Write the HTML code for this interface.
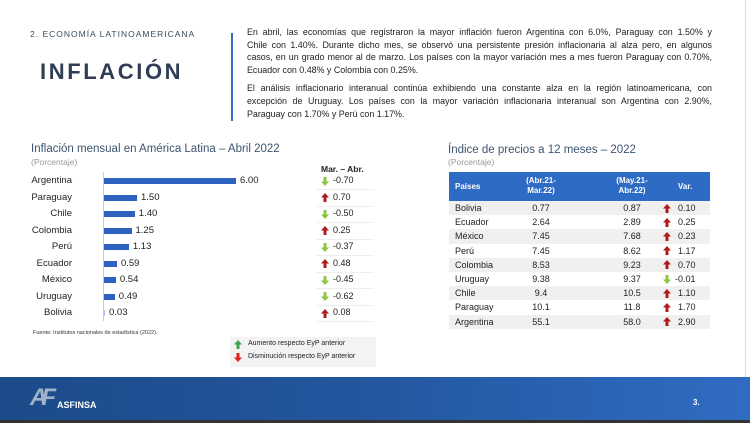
<!DOCTYPE html>
<html><head><meta charset="utf-8"><style>
*{margin:0;padding:0;box-sizing:border-box}
body{width:750px;height:423px;position:relative;background:#fff;font-family:"Liberation Sans",sans-serif;overflow:hidden;color:#222}
.a{position:absolute;white-space:nowrap}
.p div{font-size:8.9px;text-align:justify;text-align-last:justify;height:12.6px;line-height:12.6px;color:#222}
.p div.l{text-align-last:left}
.lab{position:absolute;right:678px;font-size:9.5px;color:#222}
.bar{position:absolute;left:104px;height:6px;background:#2e62c0}
.val{position:absolute;font-size:9.5px;color:#222}
svg.ar{position:absolute;width:8px;height:9px}
.tr{position:absolute;left:449px;width:261px;height:14.2px;font-size:9px;line-height:14.2px}
.tr span{position:absolute}
</style></head><body>
<div class="a" style="left:30px;top:29px;font-size:8.5px;letter-spacing:1px;color:#3a4a5e">2. ECONOMÍA LATINOAMERICANA</div>
<div class="a" style="left:40px;top:59px;font-size:22px;font-weight:bold;letter-spacing:2.6px;color:#2f3e55">INFLACIÓN</div>
<div class="a" style="left:231px;top:33px;width:2px;height:88px;background:#3a6cc0"></div>
<div class="a p" style="left:247px;top:26px;width:465px">
<div>En abril, las economías que registraron la mayor inflación fueron Argentina con 6.0%, Paraguay con 1.50% y</div>
<div>Chile con 1.40%. Durante dicho mes, se observó una persistente presión inflacionaria al alza pero, en algunos</div>
<div>casos, en un grado menor al de marzo. Los países con la mayor variación mes a mes fueron Paraguay con 0.70%,</div>
<div class="l">Ecuador con 0.48% y Colombia con 0.25%.</div>
<div style="height:6px"></div>
<div>El análisis inflacionario interanual continúa exhibiendo una constante alza en la región latinoamericana, con</div>
<div>excepción de Uruguay. Los países con la mayor variación inflacionaria interanual son Argentina con 2.90%,</div>
<div class="l">Paraguay con 1.70% y Perú con 1.17%.</div>
</div>

<div class="a" style="left:31px;top:143px;font-size:11.5px;color:#3d5470">Inflación mensual en América Latina – Abril 2022</div>
<div class="a" style="left:31px;top:157px;font-size:8.5px;color:#999">(Porcentaje)</div>
<div class="a" style="left:103px;top:172px;width:1px;height:149px;background:#ccc"></div>
<div class="a" style="left:321px;top:164px;font-size:8.5px;font-weight:bold">Mar. – Abr.</div>

<div class="a" style="left:33px;top:330px;font-size:5.5px;color:#333">Fuente: Institutos nacionales de estadística (2022).</div>
<div class="a" style="left:230px;top:337px;width:146px;height:30px;background:#f3f3f3"></div>
<svg class="ar" style="left:234px;top:340px" viewBox="0 0 8 9"><path d="M4 0L8 4.5H5.5V9H2.5V4.5H0Z" fill="#3aa64a"/></svg>
<div class="a" style="left:248px;top:340px;font-size:7px">Aumento respecto EyP anterior</div>
<svg class="ar" style="left:234px;top:353px" viewBox="0 0 8 9"><path d="M4 9L8 4.5H5.5V0H2.5V4.5H0Z" fill="#e02020"/></svg>
<div class="a" style="left:248px;top:353px;font-size:7px">Disminución respecto EyP anterior</div>

<div class="a" style="left:448px;top:144px;font-size:11.5px;color:#3d5470">Índice de precios a 12 meses – 2022</div>
<div class="a" style="left:448px;top:157px;font-size:8.5px;color:#999">(Porcentaje)</div>
<div class="a" style="left:449px;top:172px;width:261px;height:29px;background:#2e6bc4;color:#fff;font-weight:bold;font-size:8px">
<span class="a" style="left:6px;top:10px">Países</span>
<span class="a" style="left:70px;top:4px;width:44px;text-align:center;line-height:10px">(Abr.21-<br>Mar.22)</span>
<span class="a" style="left:160px;top:4px;width:46px;text-align:center;line-height:10px">(May.21-<br>Abr.22)</span>
<span class="a" style="left:229px;top:10px">Var.</span>
</div>

<div class="a" style="left:0;top:377px;width:750px;height:43px;background:linear-gradient(90deg,#1c4a8a,#24579f 50%,#2f6cc2)"></div>
<div class="a" style="left:0;top:420px;width:750px;height:3px;background:#333"></div>
<div class="a" style="left:30px;top:384px;font-size:24px;font-weight:bold;font-style:italic;color:#9fb2c9;letter-spacing:-6px">AF</div>
<div class="a" style="left:57px;top:400px;font-size:9px;font-weight:bold;color:#fff">ASFINSA</div>
<div class="a" style="left:693px;top:398px;font-size:8px;font-weight:bold;color:#fff">3.</div>
<div class="a" style="left:745px;top:0;width:1px;height:377px;background:#ddd"></div>

<script>
var UP='<path d="M4 0L8 4.5H5.5V9H2.5V4.5H0Z" fill="#b01c1c"/>',DN='<path d="M4 9L8 4.5H5.5V0H2.5V4.5H0Z" fill="#8dc63f"/>';
function ar(u,x,y){return '<svg class="ar" style="left:'+x+'px;top:'+y+'px" viewBox="0 0 8 9">'+(u?UP:DN)+'</svg>';}
var L=[["Argentina",6.00,"-0.70",0],["Paraguay",1.50,"0.70",1],["Chile",1.40,"-0.50",0],["Colombia",1.25,"0.25",1],["Perú",1.13,"-0.37",0],["Ecuador",0.59,"0.48",1],["México",0.54,"-0.45",0],["Uruguay",0.49,"-0.62",0],["Bolivia",0.03,"0.08",1]];
var h="";
L.forEach(function(r,i){var y=181+i*16.5;var w=Math.max(1,r[1]*22);
h+='<div class="lab" style="top:'+(y-6)+'px">'+r[0]+'</div>';
h+='<div class="bar" style="top:'+(y-3)+'px;width:'+w+'px;'+(i==8?'background:#a9c0e6':'')+'"></div>';
h+='<div class="val" style="left:'+(104+w+4)+'px;top:'+(y-6)+'px">'+r[1].toFixed(2)+'</div>';
h+=ar(r[3],321,y-4.5);
h+='<div class="val" style="left:333px;top:'+(y-6)+'px;font-size:9px">'+r[2]+'</div>';
h+='<div class="a" style="left:316px;top:'+(y+8)+'px;width:58px;height:1px;background:#eee"></div>';});
var T=[["Bolivia","0.77","0.87","0.10",1],["Ecuador","2.64","2.89","0.25",1],["México","7.45","7.68","0.23",1],["Perú","7.45","8.62","1.17",1],["Colombia","8.53","9.23","0.70",1],["Uruguay","9.38","9.37","-0.01",0],["Chile","9.4","10.5","1.10",1],["Paraguay","10.1","11.8","1.70",1],["Argentina","55.1","58.0","2.90",1]];
T.forEach(function(r,i){var y=201+i*14.2;
h+='<div class="tr" style="top:'+y+'px;background:'+(i%2?'#fff':'#f0f0f0')+'"><span style="left:6px">'+r[0]+'</span><span style="left:70px;width:44px;text-align:center">'+r[1]+'</span><span style="left:160px;width:46px;text-align:center">'+r[2]+'</span>'+ar(r[4],214,2.5)+'<span style="left:'+(r[3][0]=="-"?226:229)+'px">'+r[3]+'</span></div>';});
document.write(h);
</script>
</body></html>
